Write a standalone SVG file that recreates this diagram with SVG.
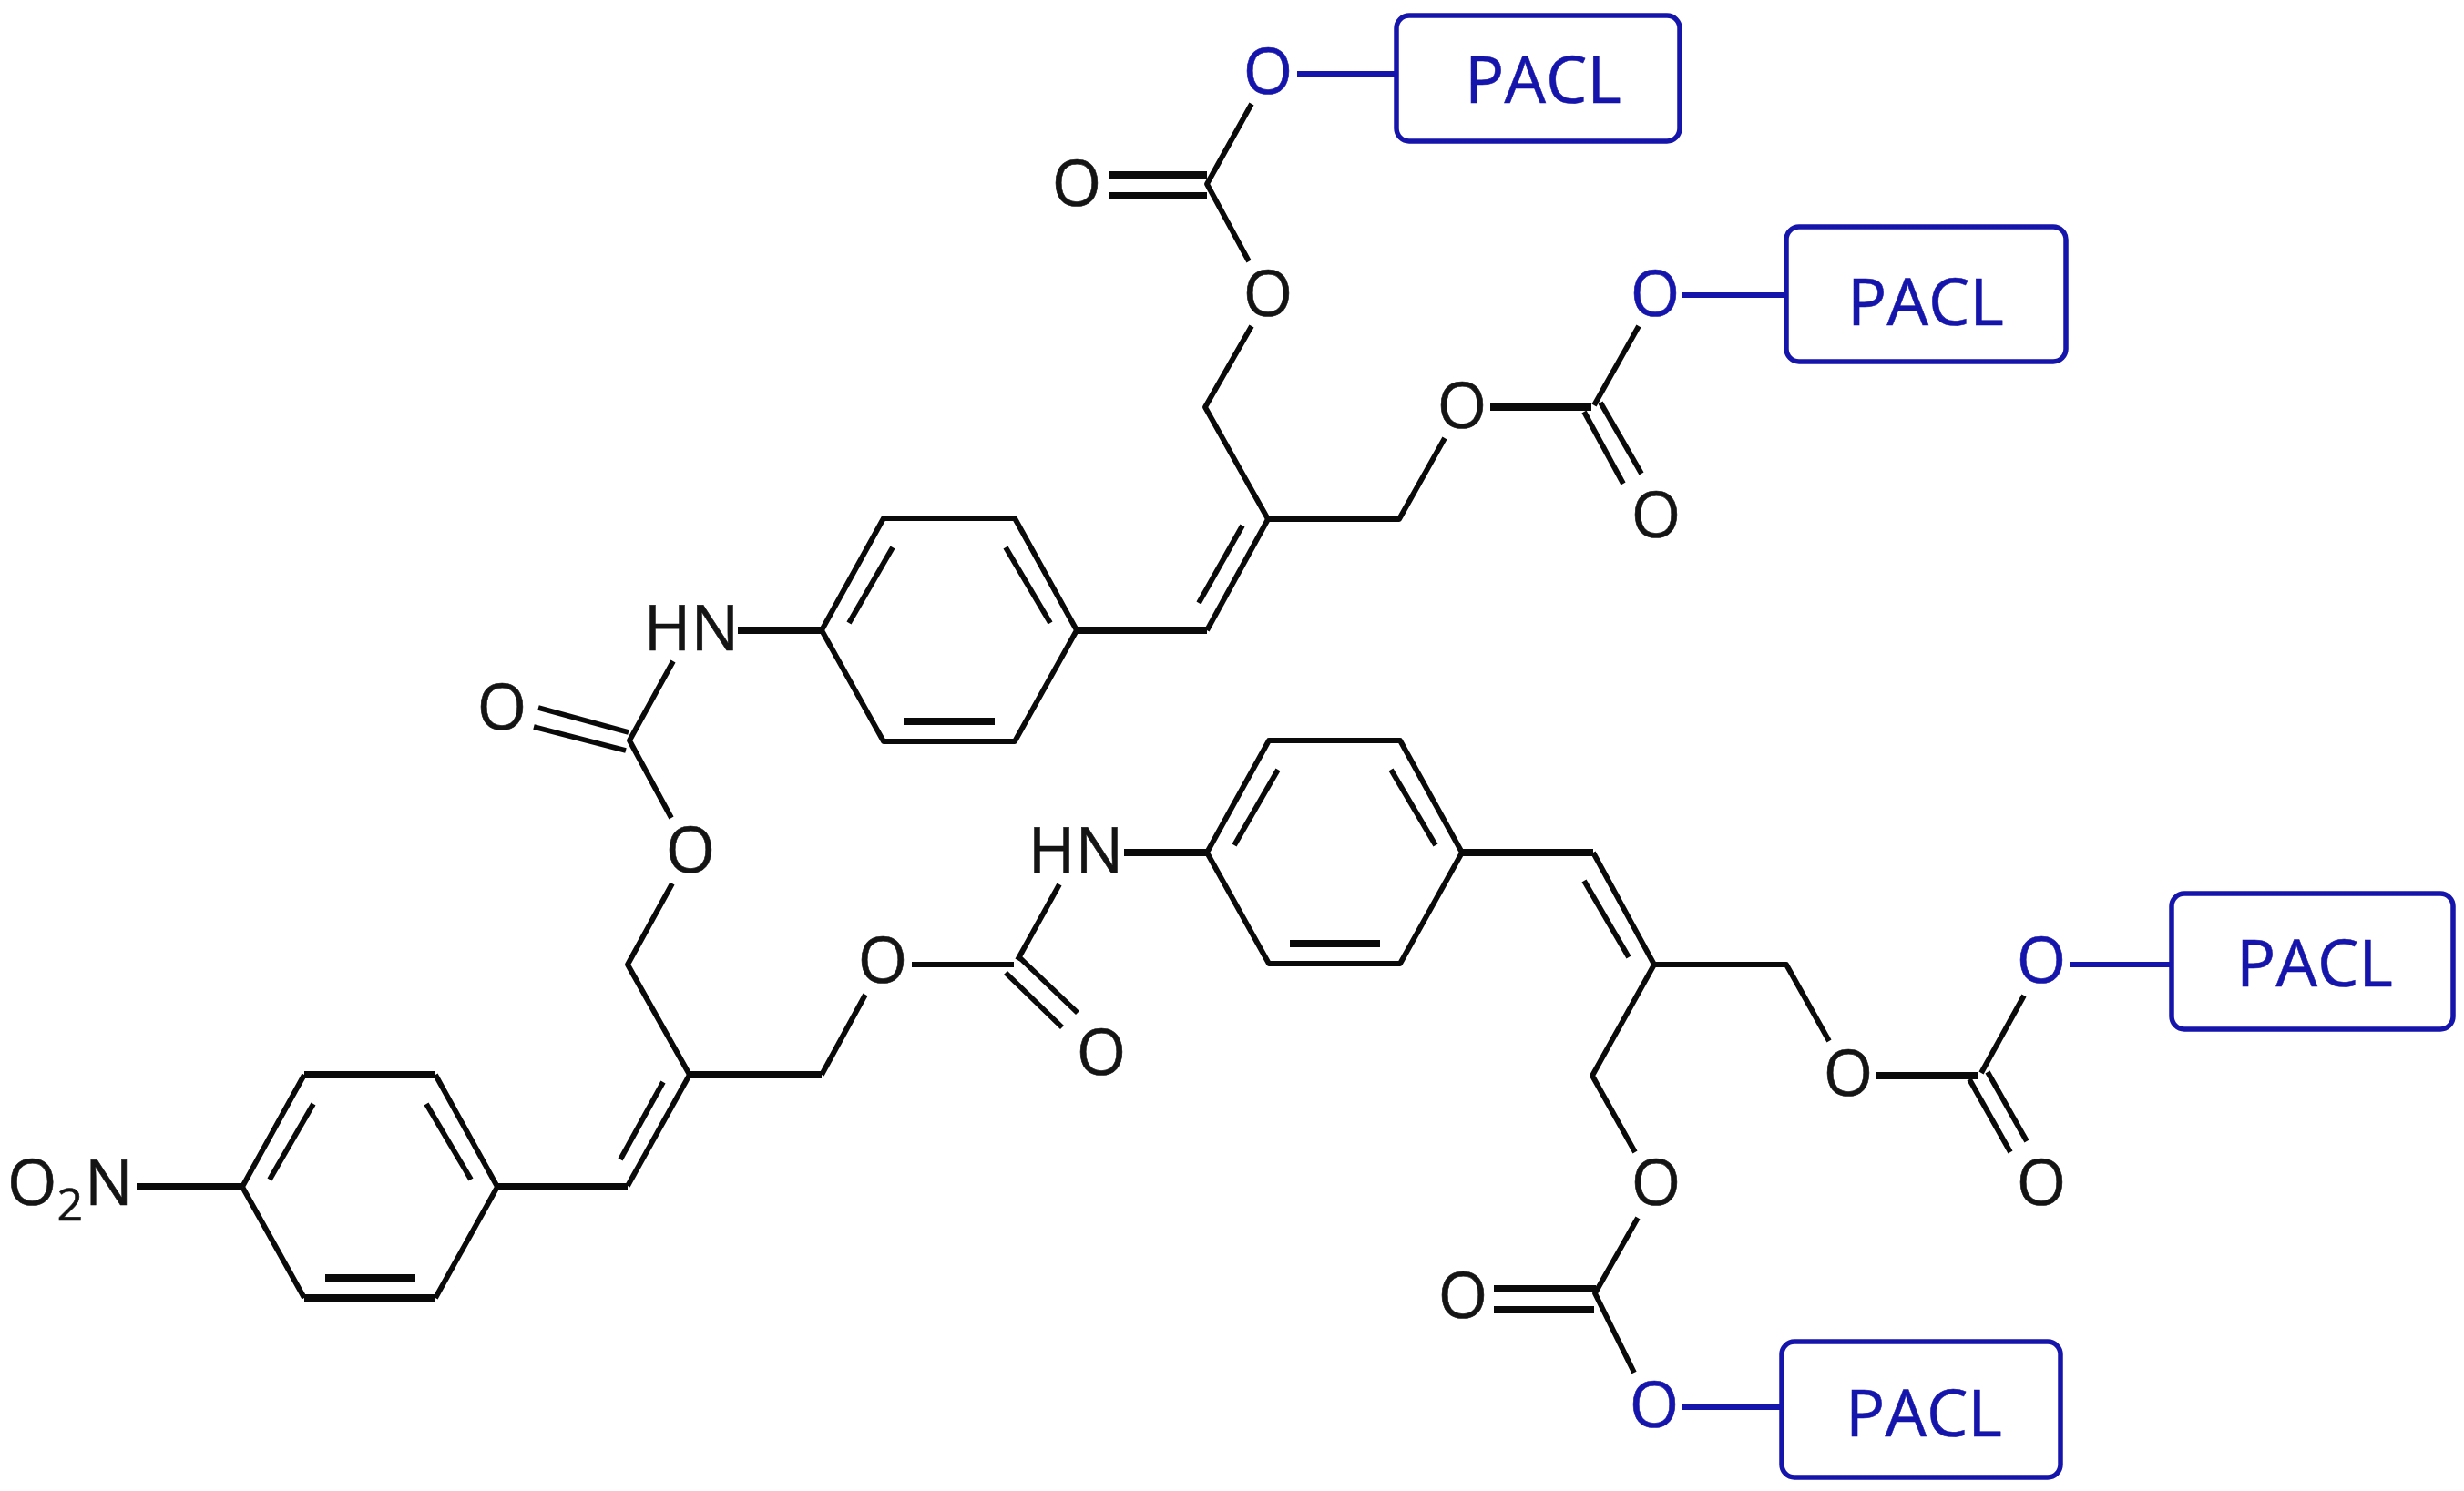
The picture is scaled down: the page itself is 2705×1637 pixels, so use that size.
<svg xmlns="http://www.w3.org/2000/svg" width="2705" height="1637" viewBox="0 0 2705 1637">
<style>
text{font-family:"Open Sans","Noto Sans","Liberation Sans",sans-serif;font-size:70px;fill:#141414;stroke:#141414;stroke-width:.6}
.o{text-anchor:middle}
.sub{font-size:50px}
.blue{fill:#1515ac;stroke:#1515ac}
.pacl{fill:#1515ac;stroke:#1515ac;font-size:72px;text-anchor:middle}
.box{fill:#fff;stroke:#1515ac;stroke-width:5.5}
#bonds path{fill:none;stroke:#0a0a0a;stroke-width:5.8;stroke-linejoin:round}
#bonds path.t{stroke-width:8}
#bonds path.u{stroke:#1515ac;stroke-width:5.8}
</style>
<rect width="2705" height="1637" fill="#fff"/>
<g id="bonds">
<!-- top carbonate 1 -->
<path class="u" d="M1424 81H1537"/>
<path d="M1374 114L1325 202L1371 287"/>
<path class="t" d="M1217 192H1325"/>
<path class="t" d="M1217 215H1325"/>
<path d="M1374 358L1323 447L1392 570"/>
<!-- top alkene and arm -->
<path d="M1392 570H1536L1586 481"/>
<path d="M1392 570L1325 692"/>
<path d="M1364 577L1316 662"/>
<path class="t" d="M1182 692H1325"/>
<!-- carbonate 2 -->
<path class="t" d="M1636 447H1747"/>
<path d="M1799 358L1750 445"/>
<path d="M1757 442L1802 520"/>
<path d="M1739 452L1782 531"/>
<path class="u" d="M1847 324H1961"/>
<!-- ring 1 -->
<path d="M902 692L970 569H1114L1182 692L1114 814H970Z"/>
<path d="M980 601L932 684"/>
<path d="M1104 601L1153 684"/>
<path class="t" d="M992 792H1092"/>
<path class="t" d="M810 692H902"/>
<!-- urethane 1 -->
<path d="M739 726L691 813L737 898"/>
<path d="M591 777L690 804"/>
<path d="M586 798L687 824"/>
<path d="M738 970L689 1059L757 1180"/>
<path class="t" d="M757 1180H902"/>
<path d="M902 1180L950 1092"/>
<path d="M757 1180L689 1302"/>
<path d="M728 1188L681 1273"/>
<path class="t" d="M546 1303H689"/>
<!-- ring 3 -->
<path class="t" d="M334 1180H478"/>
<path class="t" d="M334 1425H478"/>
<path d="M266 1303L334 1180M478 1180L546 1303L478 1425M334 1425L266 1303"/>
<path d="M344 1212L296 1295"/>
<path d="M468 1212L517 1295"/>
<path class="t" d="M357 1403H456"/>
<path class="t" d="M150 1303H266"/>
<!-- urethane 2 -->
<path d="M1001 1059H1113"/>
<path d="M1163 971L1117 1054"/>
<path d="M1120 1052L1183 1112"/>
<path d="M1104 1068L1166 1128"/>
<path class="t" d="M1234 936H1325"/>
<!-- ring 2 -->
<path d="M1325 936L1393 813H1537L1605 936L1537 1058H1393Z"/>
<path d="M1403 845L1355 928"/>
<path d="M1527 845L1576 928"/>
<path class="t" d="M1416 1036H1515"/>
<path class="t" d="M1605 936H1749"/>
<!-- lower right alkene -->
<path d="M1749 936L1816 1059H1961L2008 1143"/>
<path d="M1739 967L1788 1051"/>
<path d="M1816 1059L1748 1181L1795 1265"/>
<!-- carbonate 3 -->
<path class="t" d="M2059 1181H2172"/>
<path d="M2222 1093L2175 1178"/>
<path d="M2182 1177L2225 1253"/>
<path d="M2162 1185L2207 1265"/>
<path class="u" d="M2272 1059H2384"/>
<!-- carbonate 4 -->
<path d="M1798 1337L1751 1420L1794 1507"/>
<path class="t" d="M1640 1415H1752"/>
<path class="t" d="M1640 1438H1750"/>
<path class="u" d="M1847 1545H1956"/>
</g>
<g id="atoms">
<text id="o1" class="o blue" x="1392" y="103">O</text>
<text id="o2" class="o" x="1182" y="226">O</text>
<text id="o3" class="o" x="1392" y="347">O</text>
<text id="o4" class="o blue" x="1817" y="347">O</text>
<text id="o5" class="o" x="1605" y="470">O</text>
<text id="o6" class="o" x="1818" y="590">O</text>
<text id="nh1" class="o" x="759" y="714">HN</text>
<text id="o7" class="o" x="551" y="801">O</text>
<text id="o8" class="o" x="758" y="958">O</text>
<text id="nh2" class="o" x="1181" y="958">HN</text>
<text id="o9" class="o" x="969" y="1079">O</text>
<text id="o10" class="o" x="1209" y="1180">O</text>
<text id="o11" class="o blue" x="2241" y="1079">O</text>
<text id="o12" class="o" x="2029" y="1203">O</text>
<text id="o13" class="o" x="2241" y="1323">O</text>
<text id="o14" class="o" x="1818" y="1323">O</text>
<text id="o15" class="o" x="1606" y="1447">O</text>
<text id="o16" class="o blue" x="1816" y="1567">O</text>
<text id="no2" x="8" y="1323">O<tspan class="sub" dy="17">2</tspan><tspan dy="-17" dx="2">N</tspan></text>
</g>
<g id="pacl1"><rect class="box" x="1533" y="17" width="311" height="138" rx="14"/><text class="pacl" x="1694" y="113">PACL</text></g>
<g id="pacl2"><rect class="box" x="1961" y="249" width="307" height="148" rx="14"/><text class="pacl" x="2114" y="357">PACL</text></g>
<g id="pacl3"><rect class="box" x="2384" y="981" width="309" height="149" rx="14"/><text class="pacl" x="2541" y="1083">PACL</text></g>
<g id="pacl4"><rect class="box" x="1956" y="1473" width="306" height="149" rx="14"/><text class="pacl" x="2112" y="1577">PACL</text></g>
</svg>
